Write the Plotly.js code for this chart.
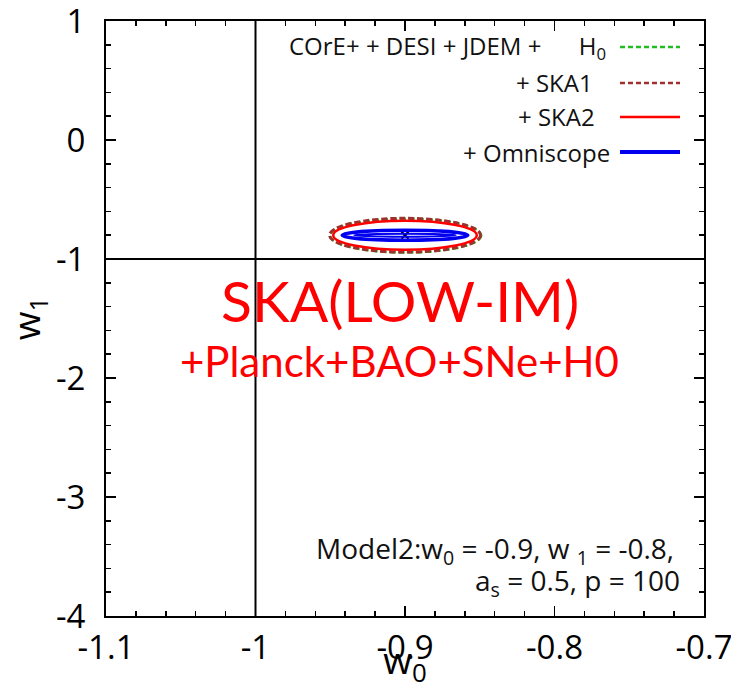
<!DOCTYPE html>
<html>
<head>
<meta charset="utf-8">
<script src="https://cdn.plot.ly/plotly-3.0.1.min.js"></script>
<style>html,body{margin:0;padding:0;background:#fff;}#chart{width:731px;height:690px;}</style>
</head>
<body>
<div id="chart"></div>
<script>
// ---- data ----
var seriesNames = ["COrE+ + DESI + JDEM +\u00a0\u00a0\u00a0\u00a0\u00a0 H<sub>0</sub>", "+ SKA1", "+ SKA2", "+ Omniscope"];
var seriesColors = ["#22bb22", "#a03030", "#ff0000", "#0000ee"];
var seriesDash = ["6px,3px", "6px,3px", "solid", "solid"];
var seriesWidth = [2.5, 3, 2.5, 3.5];
// ellipse centre and half-axes (w0, w1) for each combination
var centerW0 = [-0.8995, -0.9, -0.9, -0.9];
var centerW1 = [-0.803, -0.8, -0.8, -0.8];
var halfW0 = [0.0505, 0.0505, 0.048, 0.042];
var halfW1 = [0.142, 0.142, 0.122, 0.042];
// inner (narrow) Omniscope contour
var innerHalfW0 = 0.034;
var innerHalfW1 = 0.012;
// fiducial model
var fidW0 = [-0.9];
var fidW1 = [-0.8];
// reference lines
var refW0 = -1;
var refW1 = -1;
var xTicks = [-1.1, -1, -0.9, -0.8, -0.7];
var xTickText = ["-1.1", "-1", "-0.9", "-0.8", "-0.7"];
var yTicks = [1, 0, -1, -2, -3, -4];
var yTickText = ["1", "0", "-1", "-2", "-3", "-4"];

var FONT = "'Open Sans', 'Noto Sans', sans-serif";
var RFONT = "Lato, 'Open Sans', sans-serif";

var shapes = [];
// reference lines
shapes.push({type:"line", xref:"x", yref:"paper", x0:refW0, x1:refW0, y0:0, y1:1, line:{color:"#000", width:2}});
shapes.push({type:"line", xref:"paper", yref:"y", x0:0, x1:1, y0:refW1, y1:refW1, line:{color:"#000", width:2}});
// contours
for (var i = 0; i < seriesNames.length; i++) {
  shapes.push({type:"circle", xref:"x", yref:"y",
    x0:centerW0[i]-halfW0[i], x1:centerW0[i]+halfW0[i],
    y0:centerW1[i]-halfW1[i], y1:centerW1[i]+halfW1[i],
    line:{color:seriesColors[i], width:seriesWidth[i], dash:seriesDash[i]}});
}
shapes.push({type:"circle", xref:"x", yref:"y",
  x0:centerW0[3]-innerHalfW0, x1:centerW0[3]+innerHalfW0,
  y0:centerW1[3]-innerHalfW1, y1:centerW1[3]+innerHalfW1,
  line:{color:seriesColors[3], width:2}});

// legend (text then sample line, right-aligned like the original)
var legY = [0.9563, 0.8958, 0.8387, 0.7798];
var legTextX = [0.8395, 0.8177, 0.8211, 0.8462];
var annotations = [];
for (var j = 0; j < seriesNames.length; j++) {
  shapes.push({type:"line", xref:"paper", yref:"paper", x0:0.8595, x1:0.9599, y0:legY[j], y1:legY[j],
    line:{color:seriesColors[j], width:(j==3?4:2.5), dash:(j<2?"5px,3px":"solid")}});
  annotations.push({xref:"paper", yref:"paper", x:legTextX[j], y:legY[j], xanchor:"right", yanchor:"middle",
    text:seriesNames[j], showarrow:false, font:{family:FONT, size:24, color:"#111"}});
}
annotations.push({xref:"paper", yref:"paper", x:0.4916, y:0.531, xanchor:"center", yanchor:"middle",
  text:"SKA(LOW-IM)", showarrow:false, font:{family:RFONT, size:57, color:"#ff0000"}});
annotations.push({xref:"paper", yref:"paper", x:0.4916, y:0.4286, xanchor:"center", yanchor:"middle",
  text:"+Planck+BAO+SNe+H0", showarrow:false, font:{family:RFONT, size:42, color:"#ff0000"}});
annotations.push({xref:"paper", yref:"paper", x:0.954, y:0.1109, xanchor:"right", yanchor:"middle",
  text:"Model2:w<sub>0</sub> = -0.9, w <sub>1</sub> = -0.8,", showarrow:false,
  font:{family:FONT, size:28, color:"#111"}});
annotations.push({xref:"paper", yref:"paper", x:0.9632, y:0.0571, xanchor:"right", yanchor:"middle",
  text:"a<sub>s</sub> = 0.5, p = 100", showarrow:false,
  font:{family:FONT, size:28, color:"#111"}});

var traces = [{
  type:"scatter", mode:"markers", x:fidW0, y:fidW1,
  marker:{symbol:"x-thin", size:7, color:"#000", line:{color:"#000", width:2}},
  showlegend:false, hoverinfo:"skip"
}];

var axisCommon = {
  showgrid:false, zeroline:false, showline:true, linecolor:"#000", linewidth:2, mirror:"allticks",
  ticks:"inside", ticklen:10, tickwidth:1.5, tickcolor:"#000", ticklabeloverflow:"allow",
  tickfont:{family:FONT, size:33, color:"#000"}
};
var layout = {
  width:731, height:690,
  margin:{l:106, r:27, t:21, b:74},
  paper_bgcolor:"#fff", plot_bgcolor:"#fff",
  showlegend:false,
  xaxis:Object.assign({}, axisCommon, {
    range:[-1.1, -0.7], tickmode:"array", tickvals:xTicks, ticktext:xTickText,
    ticklabelstandoff:1,
    minor:{dtick:0.02, ticks:"inside", ticklen:5, tickwidth:1.5, tickcolor:"#000"},
    title:{text:"w<sub>0</sub>", font:{family:FONT, size:37, color:"#000"}, standoff:0}
  }),
  yaxis:Object.assign({}, axisCommon, {
    range:[-4, 1], tickmode:"array", tickvals:yTicks, ticktext:yTickText,
    ticklabelstandoff:12,
    minor:{dtick:0.2, ticks:"inside", ticklen:5, tickwidth:1.5, tickcolor:"#000"},
    title:{text:"w<sub>1</sub>", font:{family:FONT, size:37, color:"#000"}, standoff:6}
  }),
  shapes:shapes,
  annotations:annotations
};
Plotly.newPlot("chart", traces, layout, {displayModeBar:false, staticPlot:true});
</script>
</body>
</html>
